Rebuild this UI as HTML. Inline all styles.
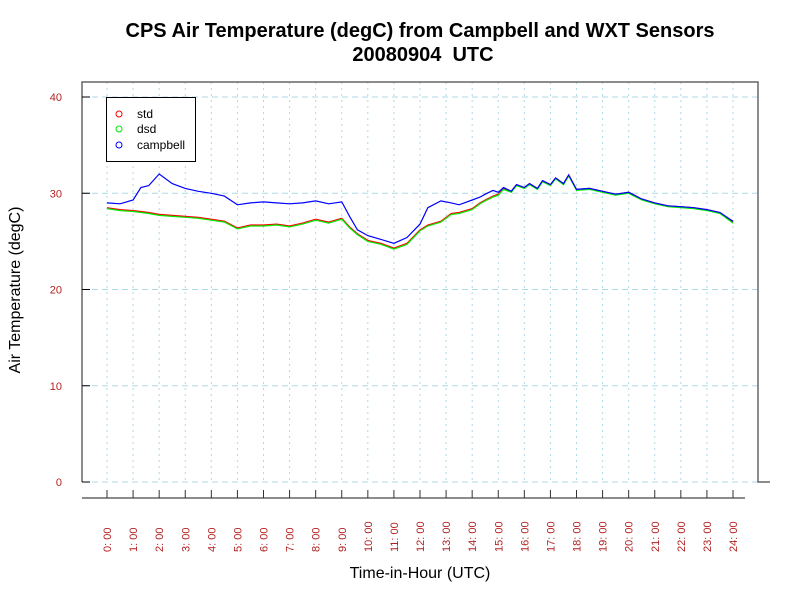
<!DOCTYPE html>
<html><head><meta charset="utf-8"><style>
body{margin:0;background:#fff;}
svg{display:block;font-family:"Liberation Sans",sans-serif;}
</style></head><body>
<svg id="chart" width="800" height="600" viewBox="0 0 800 600">
<text x="420" y="37" text-anchor="middle" font-size="20" font-weight="bold">CPS Air Temperature (degC) from Campbell and WXT Sensors</text>
<text x="423" y="61" text-anchor="middle" font-size="20" font-weight="bold">20080904&#160; UTC</text>
<text transform="translate(20,290) rotate(-90)" text-anchor="middle" font-size="16">Air Temperature (degC)</text>
<text x="420" y="578" text-anchor="middle" font-size="16">Time-in-Hour (UTC)</text>
<g id="grid"></g>
<g id="axes"></g>
<g id="series"></g>
<g>
<rect x="106.5" y="97.5" width="89" height="64" fill="#fff" stroke="#000"/>
<circle cx="119" cy="114" r="3" fill="none" stroke="#ff0000"/>
<text x="137" y="118" font-size="12">std</text>
<circle cx="119" cy="129" r="3" fill="none" stroke="#00ee00"/>
<text x="137" y="133" font-size="12">dsd</text>
<circle cx="119" cy="145" r="3" fill="none" stroke="#0000ff"/>
<text x="137" y="149" font-size="12">campbell</text>
</g>
</svg>
<script>
const hours=[0,0.5,1,1.3,1.6,2,2.5,3,3.5,4,4.5,5,5.5,6,6.5,7,7.5,8,8.5,9,9.3,9.6,10,10.5,11,11.5,12,12.3,12.8,13.2,13.5,14,14.3,14.5,14.8,15,15.2,15.5,15.7,16,16.2,16.5,16.7,17,17.2,17.5,17.7,18,18.5,19,19.5,20,20.5,21,21.5,22,22.5,23,23.5,24];
const campbell=[29.0,28.9,29.3,30.6,30.8,32.0,31.0,30.5,30.2,30.0,29.7,28.8,29.0,29.1,29.0,28.9,29.0,29.2,28.9,29.1,27.6,26.2,25.6,25.2,24.8,25.4,26.8,28.5,29.2,29.0,28.8,29.3,29.6,29.9,30.3,30.1,30.6,30.2,30.9,30.6,31.0,30.5,31.3,30.9,31.6,31.0,31.9,30.4,30.5,30.2,29.9,30.1,29.4,29.0,28.7,28.6,28.5,28.3,28.0,27.1];
const dsd=[28.4,28.2,28.1,28.0,27.9,27.7,27.6,27.5,27.4,27.2,27.0,26.3,26.6,26.6,26.7,26.5,26.8,27.2,26.9,27.3,26.4,25.7,25.0,24.7,24.2,24.7,26.1,26.6,27.0,27.8,27.9,28.3,28.9,29.2,29.6,29.8,30.4,30.1,30.8,30.5,30.9,30.4,31.2,30.8,31.5,30.9,31.8,30.3,30.4,30.1,29.8,30.0,29.3,28.9,28.6,28.5,28.4,28.2,27.9,26.9];
const std=[28.5,28.3,28.2,28.1,28.0,27.8,27.7,27.6,27.5,27.3,27.1,26.4,26.7,26.7,26.8,26.6,26.9,27.3,27.0,27.4,26.5,25.8,25.1,24.8,24.3,24.8,26.2,26.7,27.1,27.9,28.0,28.4,29.0,29.3,29.7,29.9,30.5,30.2,30.9,30.6,31.0,30.5,31.3,30.9,31.6,31.0,31.9,30.4,30.5,30.2,29.9,30.1,29.4,29.0,28.7,28.6,28.5,28.3,28.0,27.0];
const yTicks=[0,10,20,30,40];
const xTickLabels=["0:00","1:00","2:00","3:00","4:00","5:00","6:00","7:00","8:00","9:00","10:00","11:00","12:00","13:00","14:00","15:00","16:00","17:00","18:00","19:00","20:00","21:00","22:00","23:00","24:00"];
const NS="http://www.w3.org/2000/svg";
const X=h=>107+h*(733-107)/24;
const Y=v=>482-v*(482-97)/40;
function mk(tag,attrs,parent){const e=document.createElementNS(NS,tag);for(const k in attrs)e.setAttribute(k,attrs[k]);document.getElementById(parent).appendChild(e);return e;}
xTickLabels.forEach((l,i)=>{
 const g=mk('line',{x1:X(i),x2:X(i),y1:82,y2:482,stroke:'#add8e6','stroke-dasharray':'2,4'},'grid');
 
 
});
yTicks.forEach(v=>{
 const g=mk('line',{x1:82,x2:758,y1:Y(v),y2:Y(v),stroke:'#add8e6','stroke-dasharray':'6,4'},'grid');
 
 
});
const box=mk('path',{d:'M82,482 V82 H758 V482 H770',fill:'none',stroke:'#666','stroke-width':1.5},'axes');


const xa=mk('line',{x1:82,x2:745,y1:498,y2:498,stroke:'#666','stroke-width':1.5},'axes');


yTicks.forEach(v=>{
 const t=mk('line',{x1:82,x2:90,y1:Y(v),y2:Y(v),stroke:'#000'},'axes');
 
 
 const tx=mk('text',{x:62,y:Y(v)+4,'text-anchor':'end','font-size':11,fill:'#b22222'},'axes');
 tx.textContent=v;
 
 
});
xTickLabels.forEach((l,i)=>{
 const t=mk('line',{x1:X(i),x2:X(i),y1:490,y2:498,stroke:'#333'},'axes');
 
 
 const tx=mk('text',{transform:`translate(${X(i)+4},552) rotate(-90)`,'text-anchor':'start','font-size':11,fill:'#b22222'},'axes');
 tx.textContent=l.replace(':',': ');
 
 
});
function line(vals,color,name){
 const d=vals.map((v,i)=>(i?'L':'M')+X(hours[i]).toFixed(1)+','+Y(v).toFixed(1)).join(' ');
 const p=mk('path',{d:d,fill:'none',stroke:color,'stroke-width':1.2},'series');
 
 
}
line(std,'#ff0000','std-line');
line(dsd,'#00ee00','dsd-line');
line(campbell,'#0000ff','campbell-line');
</script>
</body></html>
